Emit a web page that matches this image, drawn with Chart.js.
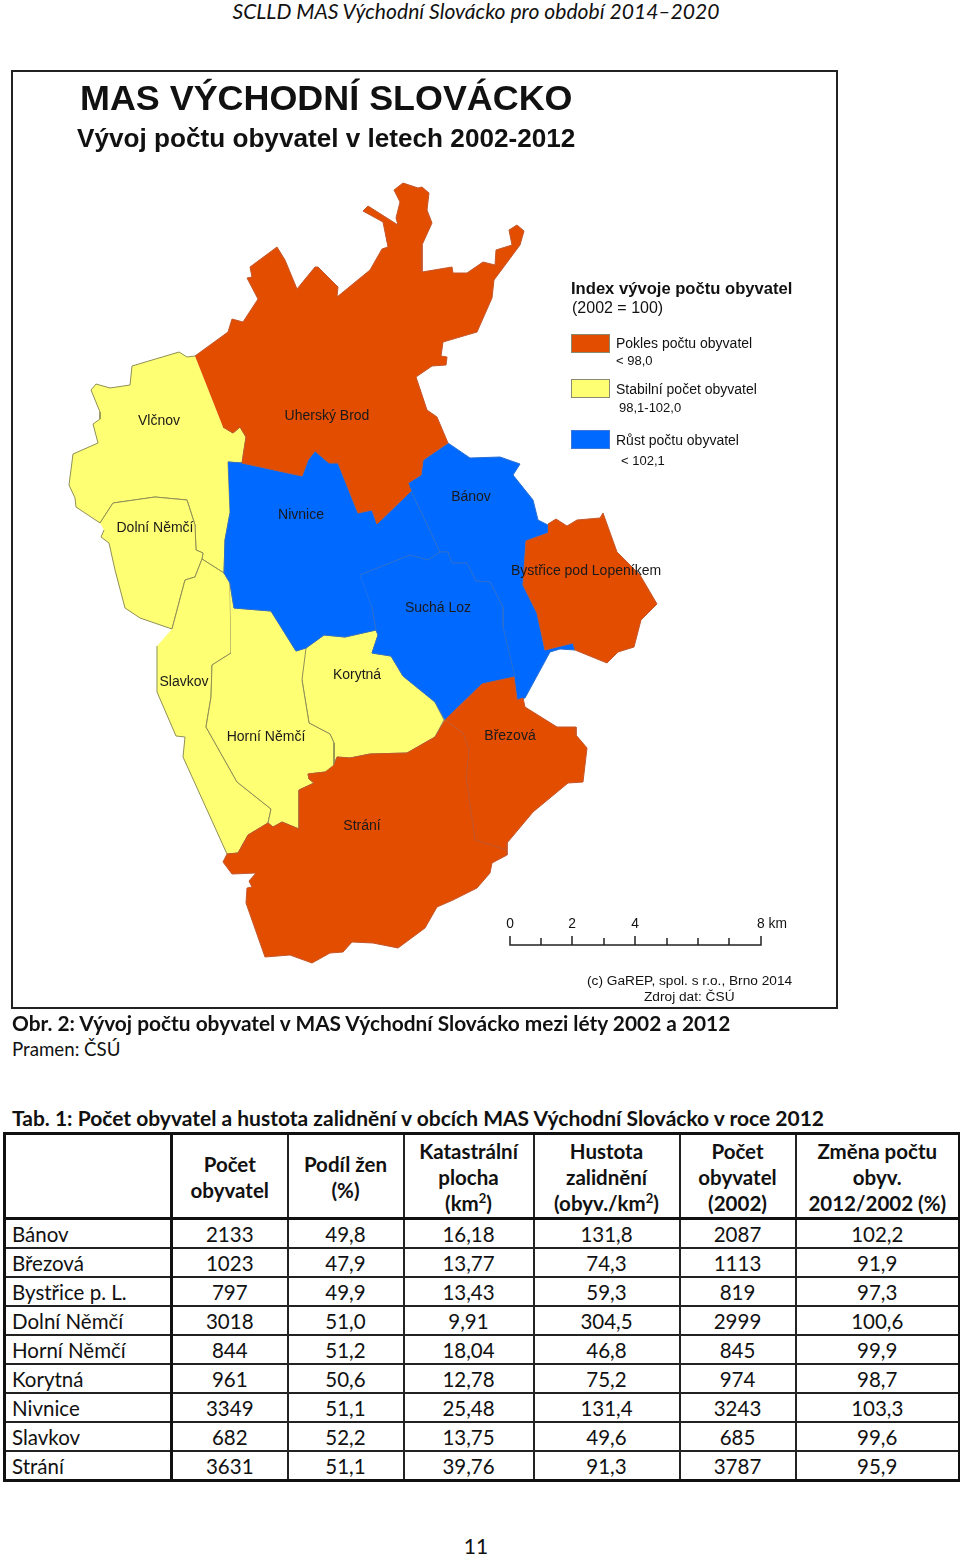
<!DOCTYPE html>
<html lang="cs">
<head>
<meta charset="utf-8">
<title>MAS Východní Slovácko</title>
<script src="https://cdn.jsdelivr.net/npm/chart.js@4"></script>
<style>
  html, body { margin: 0; padding: 0; background: #fff; }
  body { position: relative; width: 960px; height: 1554px; overflow: hidden; font-family: Lato, sans-serif; color: #111; }
  .abs { position: absolute; white-space: nowrap; line-height: 1; }
  #frame { position: absolute; left: 11px; top: 70px; width: 823px; height: 935px; border: 2px solid #222; }
  #mapWrap { position: absolute; left: 0; top: 0; width: 960px; height: 1020px; }
  .map { font-family: "Liberation Sans", Arial, sans-serif; color: #111; }
  .lbl { transform: translate(-50%, -50%); font-size: 14px; color: #1a1a1a; }
  .swatch { position: absolute; left: 571px; width: 37px; height: 17px; border: 1px solid #8a8a70; }
  .cap { font-size: 21px; }
  table { position: absolute; left: 3px; top: 1132px; width: 955px; table-layout: fixed; border-collapse: collapse; border: 3px solid #111; font-size: 20.5px; line-height: 26px; }
  th, td { border: 2px solid #222; padding: 1px 0 0; text-align: center; font-weight: 400; height: 26px; }
  th { font-weight: 700; height: 81px; border-bottom: 3px solid #111; }
  td:first-child { text-align: left; padding-left: 6px; }
  td:first-child, th:first-child { border-right: 3px solid #111; }
  sup { font-size: 13px; line-height: 0; }
</style>
</head>
<body>
<div class="abs" style="left:0;width:952px;text-align:center;top:0;font-size:21.1px;font-style:italic">SCLLD MAS Východní Slovácko pro období 2014–2020</div>

<div id="frame"></div>
<div id="mapWrap"><canvas id="mapChart" width="960" height="1020"></canvas></div>

<div class="abs map" style="left:80px;top:81px;font-size:35.9px;font-weight:700">MAS VÝCHODNÍ SLOVÁCKO</div>
<div class="abs map" style="left:77px;top:125px;font-size:26.15px;font-weight:700">Vývoj počtu obyvatel v letech 2002-2012</div>

<div id="labels"></div>

<div class="abs map" style="left:571px;top:281px;font-size:16.6px;font-weight:700">Index vývoje počtu obyvatel</div>
<div class="abs map" style="left:572px;top:300px;font-size:16px">(2002 = 100)</div>
<div class="swatch" style="top:334px;background:#E34D00"></div>
<div class="abs map" style="left:616px;top:336px;font-size:14px">Pokles počtu obyvatel</div>
<div class="abs map" style="left:616px;top:354px;font-size:13px">&lt; 98,0</div>
<div class="swatch" style="top:379px;background:#FFFF73"></div>
<div class="abs map" style="left:616px;top:382px;font-size:14px">Stabilní počet obyvatel</div>
<div class="abs map" style="left:619px;top:401px;font-size:13px">98,1-102,0</div>
<div class="swatch" style="top:430px;background:#0069FF;border-color:#3f78d8"></div>
<div class="abs map" style="left:616px;top:433px;font-size:14px">Růst počtu obyvatel</div>
<div class="abs map" style="left:621px;top:454px;font-size:13px">&lt; 102,1</div>

<div id="scaleText"></div>
<div class="abs map" style="left:587px;top:974px;font-size:13.7px">(c) GaREP, spol. s r.o., Brno 2014</div>
<div class="abs map" style="left:644px;top:990px;font-size:13.7px">Zdroj dat: ČSÚ</div>

<div class="abs cap" style="left:12px;top:1013px;font-size:20.85px;font-weight:700">Obr. 2: Vývoj počtu obyvatel v MAS Východní Slovácko mezi léty 2002 a 2012</div>
<div class="abs cap" style="left:12px;top:1040px;font-size:18.7px">Pramen: ČSÚ</div>
<div class="abs cap" style="left:12px;top:1107px;font-weight:700">Tab. 1: Počet obyvatel a hustota zalidnění v obcích MAS Východní Slovácko v roce 2012</div>

<table id="tab"></table>
<div class="abs" style="left:0;width:952px;text-align:center;top:1535px;font-size:21px">11</div>

<script>
// ── TABLE DATA ─────────────────────────────────────────
const obce        = ["Bánov", "Březová", "Bystřice p. L.", "Dolní Němčí", "Horní Němčí", "Korytná", "Nivnice", "Slavkov", "Strání"];
const pocet2012   = ["2133", "1023", "797", "3018", "844", "961", "3349", "682", "3631"];
const podilZen    = ["49,8", "47,9", "49,9", "51,0", "51,2", "50,6", "51,1", "52,2", "51,1"];
const plocha      = ["16,18", "13,77", "13,43", "9,91", "18,04", "12,78", "25,48", "13,75", "39,76"];
const hustota     = ["131,8", "74,3", "59,3", "304,5", "46,8", "75,2", "131,4", "49,6", "91,3"];
const pocet2002   = ["2087", "1113", "819", "2999", "845", "974", "3243", "685", "3787"];
const zmena       = ["102,2", "91,9", "97,3", "100,6", "99,9", "98,7", "103,3", "99,6", "95,9"];
const hlavicky    = ["", "Počet<br>obyvatel", "Podíl žen<br>(%)", "Katastrální<br>plocha<br>(km<sup>2</sup>)",
                     "Hustota<br>zalidnění<br>(obyv./km<sup>2</sup>)", "Počet<br>obyvatel<br>(2002)", "Změna počtu<br>obyv.<br>2012/2002 (%)"];
const colWidths   = [167, 116, 116, 130, 146, 116, 164];

// ── MAP OUTLINES ([x, y] in map units) ─────────────────
const uherskyBrod = [[195,356],[228,332],[232,319],[243,322],[258,299],[247,278],[252,277],[250,267],[277,247],[285,260],[297,289],[315,267],[318,267],[338,287],[337,297],[370,270],[382,249],[388,247],[383,222],[363,211],[368,206],[398,225],[396,218],[400,202],[394,190],[403,183],[418,188],[422,187],[429,193],[427,210],[432,223],[422,245],[422,272],[452,267],[453,273],[467,273],[483,262],[495,265],[496,250],[512,245],[509,230],[517,225],[524,231],[520,245],[494,280],[492,298],[477,332],[443,342],[441,356],[447,357],[446,365],[432,366],[416,377],[427,410],[437,417],[448,443],[423,460],[421,475],[408,483],[411,491],[377,524],[372,510],[358,513],[338,463],[329,463],[315,451],[308,460],[302,476],[242,463],[246,437],[240,427],[233,433],[223,427]];
const vlcnov      = [[195,356],[187,357],[179,352],[132,366],[130,385],[110,388],[96,384],[91,390],[100,412],[100,419],[93,424],[98,443],[73,454],[69,485],[75,498],[76,507],[100,523],[113,503],[155,497],[187,500],[195,525],[196,550],[203,553],[202,559],[224,573],[225,540],[230,513],[228,462],[242,463],[246,437],[240,427],[233,433],[223,427]];
const dolniNemci  = [[100,523],[113,503],[155,497],[187,500],[195,525],[196,550],[203,553],[202,559],[195,577],[185,580],[172,629],[140,618],[125,608],[115,570],[109,543],[101,537],[104,530]];
const slavkov     = [[172,629],[185,580],[195,577],[202,559],[224,573],[230,583],[231,653],[212,665],[211,697],[206,727],[237,782],[271,809],[268,823],[248,835],[238,853],[227,854],[183,757],[185,737],[176,736],[157,692],[157,646]];
const horniNemci  = [[230,583],[234,608],[271,611],[296,651],[306,648],[302,680],[309,723],[330,734],[334,743],[334,765],[325,772],[308,774],[309,779],[314,783],[299,790],[299,829],[282,822],[273,827],[268,823],[271,809],[237,782],[206,727],[211,697],[212,665],[231,653]];
const korytna     = [[306,648],[324,635],[345,637],[376,630],[378,635],[372,653],[391,656],[403,676],[435,702],[444,720],[435,737],[407,753],[370,754],[350,758],[337,757],[334,765],[334,743],[330,734],[309,723],[302,680]];
const strani      = [[334,765],[337,757],[350,758],[370,754],[407,753],[435,737],[445,720],[463,733],[469,750],[466,777],[475,840],[507,850],[507,855],[492,863],[490,873],[477,888],[453,900],[437,907],[425,928],[398,948],[373,943],[352,942],[343,952],[330,953],[312,963],[290,955],[265,957],[246,903],[247,888],[252,887],[249,881],[256,873],[232,874],[223,862],[227,854],[238,853],[248,835],[268,823],[273,827],[282,822],[299,829],[299,790],[314,783],[309,779],[308,774],[325,772]];
const brezova     = [[445,720],[482,684],[514,677],[517,700],[523,698],[525,707],[557,727],[576,727],[576,735],[587,748],[583,782],[568,783],[533,812],[507,843],[507,850],[475,840],[466,777],[469,750],[463,733]];
const bystrice    = [[548,524],[556,519],[567,526],[577,520],[600,518],[603,513],[617,552],[640,575],[657,604],[641,620],[634,647],[618,652],[607,663],[575,650],[573,643],[545,650],[537,613],[523,585],[526,541],[548,533]];
const nivnice     = [[228,462],[242,463],[302,476],[308,460],[315,451],[329,463],[338,463],[358,513],[372,510],[377,524],[411,491],[440,552],[428,560],[410,555],[360,575],[372,607],[376,630],[345,637],[324,635],[306,648],[296,651],[271,611],[234,608],[230,583],[224,573],[225,540],[230,513]];
const suchaLoz    = [[360,575],[410,555],[428,560],[440,552],[448,552],[452,563],[467,563],[476,581],[490,582],[503,607],[503,627],[515,677],[482,684],[445,720],[435,702],[403,676],[391,656],[372,653],[378,635],[376,630],[372,607]];
const banov       = [[448,443],[470,458],[500,457],[520,464],[513,475],[533,500],[538,520],[548,525],[548,533],[526,541],[523,585],[537,613],[545,650],[573,643],[575,650],[560,649],[550,652],[525,698],[517,700],[514,677],[503,627],[503,607],[490,582],[476,581],[467,563],[452,563],[448,552],[440,552],[411,491],[408,483],[421,475],[423,460]];

const pokles   = [strani, brezova, bystrice, uherskyBrod];
const stabilni = [horniNemci, korytna, slavkov, dolniNemci, vlcnov];
const rust     = [suchaLoz, nivnice, banov];

// ── SCALE BAR ──────────────────────────────────────────
const scaleTickX  = [510, 541, 572, 604, 635, 667, 698, 729, 761];
const scaleLabels = ["0", "2", "4", "8 km"];
const scaleLabelX = [510, 572, 635, 757];

// ── MAP LABELS ─────────────────────────────────────────
const mapNames  = ["Vlčnov", "Uherský Brod", "Dolní Němčí", "Nivnice", "Bánov", "Bystřice pod Lopeníkem", "Suchá Loz", "Slavkov", "Korytná", "Horní Němčí", "Březová", "Strání"];
const mapNamesX = [159, 327, 155, 301, 471, 586, 438, 184, 357, 266, 510, 362];
const mapNamesY = [420, 415, 527, 514, 496, 570, 607, 681, 674, 736, 735, 825];

document.addEventListener("DOMContentLoaded", () => {

  // ── BUILD TABLE ────────────────────────────────────────
  let html = "<colgroup>" + colWidths.map(w => `<col style="width:${w}px">`).join("") + "</colgroup>";
  html += "<tr>" + hlavicky.map(h => `<th>${h}</th>`).join("") + "</tr>";
  obce.forEach((o, i) => {
    const row = [o, pocet2012[i], podilZen[i], plocha[i], hustota[i], pocet2002[i], zmena[i]];
    html += "<tr>" + row.map(c => `<td>${c}</td>`).join("") + "</tr>";
  });
  document.getElementById("tab").innerHTML = html;

  // ── MAP ────────────────────────────────────────────────
  function region(points, fillColor, lineColor) {
    return {
      data: points.map(p => ({ x: p[0], y: p[1] })),
      showLine: true,
      fill: "shape",
      tension: 0,
      backgroundColor: fillColor,
      borderColor: lineColor,
      borderWidth: 1,
      pointRadius: 0
    };
  }

  const scalePath = [];
  scaleTickX.forEach((x, i) => {
    const top = i === 0 || i === 2 || i === 4 || i === 8 ? 936 : 938;
    scalePath.push({ x, y: 945 }, { x, y: top }, { x, y: 945 });
  });

  const datasets = [
    { data: scalePath, showLine: true, tension: 0, borderColor: "#222", borderWidth: 1.5, pointRadius: 0 },
    ...pokles.map(r => region(r, "#E34D00", "#c4562a")),
    ...rust.map(r => region(r, "#0069FF", "#2a6fd2")),
    ...stabilni.map(r => region(r, "#FFFF73", "#8f8f55"))
  ];

  new Chart(document.getElementById("mapChart"), {
    type: "scatter",
    data: { datasets },
    options: {
      responsive: false,
      animation: false,
      plugins: { legend: { display: false }, tooltip: { enabled: false } },
      scales: {
        x: { type: "linear", display: false, min: 0, max: 960 },
        y: { type: "linear", display: false, min: 0, max: 1020, reverse: true }
      }
    }
  });

  // ── TEXT OVER THE MAP ──────────────────────────────────
  document.getElementById("labels").innerHTML = mapNames.map((n, i) =>
    `<div class="abs map lbl" style="left:${mapNamesX[i]}px;top:${mapNamesY[i]}px">${n}</div>`
  ).join("");

  document.getElementById("scaleText").innerHTML = scaleLabels.map((n, i) =>
    `<div class="abs map" style="left:${scaleLabelX[i]}px;top:917px;font-size:13.8px;${i < 3 ? "transform:translateX(-50%)" : ""}">${n}</div>`
  ).join("");
});
</script>
</body>
</html>
